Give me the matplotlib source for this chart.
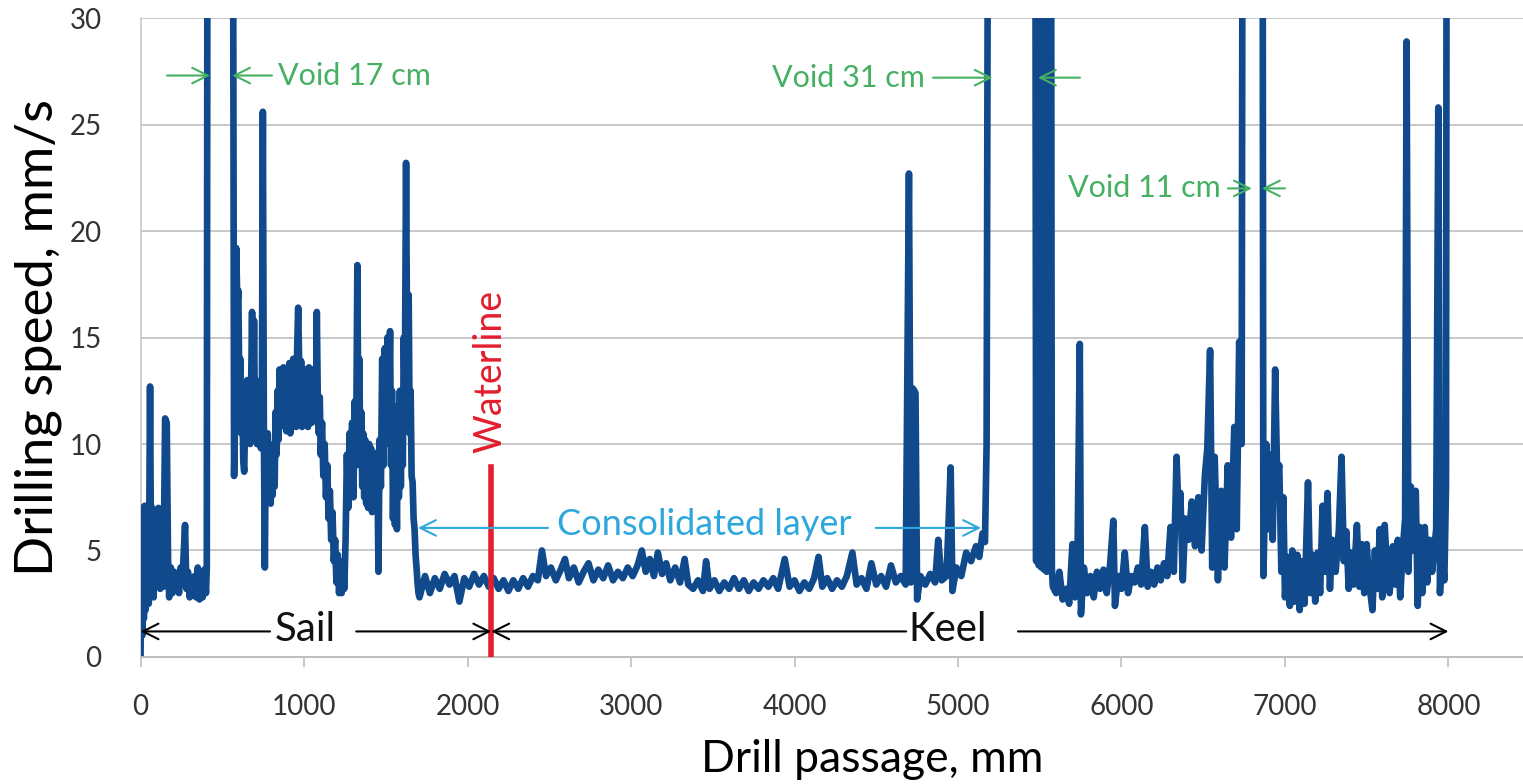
import matplotlib.pyplot as plt
import numpy as np

# drill record (mm, mm/s); values above 30 are voids (off scale)
sail_x = [0, 5, 10, 15, 20, 25, 30, 40, 50, 58, 65, 72, 80, 90, 100, 110, 120, 130, 140, 150,
          160, 168, 175, 185, 195, 205, 215, 225, 235, 245, 255, 265, 272, 280, 290, 300, 310,
          320, 330, 340, 350, 360, 370, 380, 390, 400, 405, 412, 560, 572]
sail_y = [0.2, 7.0, 1.0, 6.8, 1.8, 7.1, 2.2, 6.9, 2.5, 12.7, 3.0, 7.0, 2.8, 6.8, 3.4, 7.0, 3.2,
          5.0, 3.3, 11.2, 11.0, 4.6, 2.8, 4.2, 3.0, 4.0, 3.2, 3.8, 3.0, 4.2, 3.4, 5.0, 6.2, 3.2,
          4.0, 2.8, 3.4, 2.9, 3.8, 2.8, 4.2, 2.7, 3.9, 2.8, 4.1, 3.0, 4.2, 60, 60, 8.5]

upper_x = [580, 585, 592, 598, 604, 610, 616, 622, 628, 634, 640, 646, 652, 658, 664, 670, 676,
           682, 688, 694, 700, 706, 712, 718, 724, 730, 736, 742, 748, 754, 760, 766, 772, 778,
           784, 790, 796, 802, 808, 814, 820, 826, 832, 838, 844, 850, 856, 862, 868, 874, 880,
           886, 892, 898, 904, 910, 916, 922, 928, 934, 940, 946, 952, 958, 964, 970, 976, 982,
           988, 994, 1000, 1006, 1012, 1018, 1024, 1030, 1036, 1042, 1048, 1054, 1060, 1066,
           1072, 1078, 1084, 1090, 1096, 1102, 1110, 1118, 1126, 1134, 1142, 1150, 1158, 1166,
           1174, 1182, 1190, 1198, 1206, 1214, 1222, 1230, 1238, 1246, 1254, 1262, 1270, 1278,
           1286, 1294, 1302, 1310, 1318, 1326, 1332, 1338, 1344, 1350, 1356, 1362, 1368, 1374,
           1380, 1386, 1392, 1398, 1404, 1410, 1416, 1422, 1428, 1434, 1440, 1448, 1455, 1462,
           1470, 1478, 1486, 1494, 1502, 1510, 1518, 1526, 1532, 1538, 1544, 1550, 1556, 1562,
           1568, 1574, 1580, 1586, 1592, 1598, 1604, 1610, 1616, 1624, 1632, 1640, 1646, 1652,
           1658, 1664, 1670, 1676, 1682, 1688, 1694, 1700]
upper_y = [12.0, 19.2, 16.5, 17.2, 12.5, 14.0, 10.5, 12.8, 9.2, 8.7, 11.5, 10.2, 13.0, 10.5,
           11.8, 10.0, 12.5, 16.2, 11.0, 15.8, 10.8, 13.0, 10.0, 12.0, 10.5, 11.2, 9.8, 12.0,
           25.6, 11.0, 4.2, 10.2, 8.0, 10.5, 8.5, 9.8, 7.2, 9.5, 7.6, 10.0, 8.0, 11.5, 9.5, 12.5,
           10.2, 13.5, 10.8, 13.2, 11.0, 13.6, 11.2, 13.4, 10.6, 13.5, 11.0, 13.8, 10.5, 13.5,
           11.8, 14.0, 11.2, 13.2, 10.8, 14.5, 16.4, 13.8, 11.5, 13.9, 10.8, 13.2, 11.5, 13.5,
           11.2, 13.0, 10.8, 13.6, 11.0, 13.2, 11.0, 13.5, 11.2, 12.8, 11.5, 16.2, 12.0, 10.5,
           12.2, 9.5, 11.0, 8.5, 10.0, 7.5, 9.0, 6.5, 7.8, 5.5, 6.8, 4.5, 5.5, 3.5, 4.8, 3.0, 4.0,
           3.0, 4.5, 3.2, 5.5, 9.5, 7.0, 10.5, 8.0, 11.0, 7.5, 12.0, 9.0, 18.4, 10.5, 14.0, 9.0,
           11.5, 8.0, 10.5, 7.5, 10.2, 7.2, 9.8, 7.0, 10.0, 7.5, 9.8, 6.8, 9.5, 7.0, 9.2, 7.2,
           9.6, 4.0, 10.2, 8.0, 14.0, 9.0, 14.5, 10.0, 15.0, 11.0, 15.3, 9.0, 12.5, 6.5, 10.0,
           6.2, 9.5, 6.0, 11.8, 7.5, 12.5, 8.0, 12.0, 9.0, 15.0, 12.0, 23.2, 12.0, 17.0, 10.5,
           12.5, 8.5, 8.2, 6.5, 6.0, 4.8, 4.2, 3.5, 3.0]

layer_x = [1706, 1740, 1770, 1800, 1830, 1860, 1890, 1920, 1950, 1980, 2010, 2040, 2070, 2100,
           2130, 2160, 2190, 2220, 2250, 2280, 2310, 2340, 2370, 2400, 2430, 2455, 2480, 2510,
           2540, 2570, 2596, 2620, 2650, 2680, 2710, 2740, 2770, 2800, 2830, 2860, 2890, 2920,
           2950, 2980, 3010, 3040, 3066, 3090, 3115, 3140, 3164, 3190, 3215, 3240, 3270, 3300,
           3328, 3350, 3380, 3410, 3440, 3459, 3480, 3510, 3540, 3570, 3600, 3630, 3660, 3690,
           3720, 3750, 3780, 3810, 3840, 3870, 3900, 3940, 3970, 4000, 4030, 4060, 4090, 4120,
           4147, 4170, 4200, 4230, 4260, 4290, 4320, 4354, 4380, 4410, 4440, 4470, 4500, 4530,
           4560, 4590, 4620, 4650, 4680, 4700, 4712, 4725, 4740, 4750, 4770, 4800, 4830, 4860,
           4879, 4900, 4930, 4955, 4966, 4990, 5020, 5050, 5080, 5110, 5130, 5150, 5165, 5175]
layer_y = [2.8, 3.8, 3.0, 3.7, 3.2, 3.9, 3.4, 3.8, 2.6, 3.7, 3.3, 3.9, 3.4, 3.8, 3.3, 3.7, 3.2,
           3.6, 3.1, 3.6, 3.2, 3.7, 3.3, 3.8, 3.6, 5.0, 3.8, 4.2, 3.6, 4.1, 4.6, 3.7, 4.2, 3.5,
           4.0, 4.4, 3.6, 4.1, 3.7, 4.3, 3.6, 4.0, 3.7, 4.2, 3.8, 4.3, 5.0, 4.0, 4.6, 3.8, 4.9,
           3.9, 4.4, 3.6, 4.2, 3.5, 4.6, 3.4, 3.2, 3.6, 3.1, 4.5, 3.2, 3.6, 3.1, 3.5, 3.2, 3.7,
           3.2, 3.6, 3.1, 3.5, 3.2, 3.6, 3.3, 3.7, 3.2, 4.6, 3.3, 3.6, 3.1, 3.5, 3.2, 3.7, 4.7,
           3.3, 3.7, 3.2, 3.6, 3.3, 3.8, 4.9, 3.4, 3.7, 3.2, 4.4, 3.4, 3.8, 3.3, 4.3, 3.5, 3.8,
           3.4, 22.7, 3.5, 12.6, 12.4, 2.7, 3.8, 3.4, 3.9, 3.5, 5.5, 3.6, 3.8, 8.9, 3.1, 4.2,
           3.8, 4.9, 4.5, 5.2, 4.7, 5.8, 5.4, 10.0]

keel_x = [5190, 5470, 5478, 5486, 5494, 5502, 5510, 5518, 5526, 5534, 5542, 5550, 5558, 5566,
          5574, 5580, 5600, 5620, 5640, 5660,
          5680, 5700, 5715, 5730, 5745, 5752, 5770, 5790, 5810, 5830, 5850, 5870, 5890, 5910,
          5930, 5950, 5960, 5980, 6000, 6020, 6040, 6060, 6080, 6100, 6120, 6143, 6160, 6180,
          6200, 6220, 6240, 6260, 6280, 6300, 6320, 6337, 6350, 6360, 6375, 6390, 6410, 6430,
          6450, 6470, 6490, 6510, 6525, 6542, 6555, 6570, 6590, 6610, 6630, 6650, 6670, 6690,
          6705, 6720, 6735, 6745, 6860, 6868]
keel_y = [60, 60, 4.5, 60, 4.3, 60, 4.2, 60, 4.1, 60, 4.0, 60, 4.2, 60, 4.2, 3.3, 3.0, 4.0,
          2.7, 3.2, 2.5, 5.3, 2.8, 4.0,
          14.7, 2.0, 4.2, 3.0, 3.8, 2.8, 4.0, 3.2, 4.1, 3.0, 4.3, 6.4, 2.4, 3.8, 3.2, 4.9, 3.0,
          3.8, 3.5, 4.2, 3.4, 6.1, 3.3, 4.0, 3.4, 4.2, 3.6, 4.4, 3.8, 6.1, 4.0, 9.4, 6.5, 7.7,
          3.6, 6.5, 5.5, 7.3, 5.2, 7.5, 5.0, 8.5, 9.8, 14.4, 4.2, 9.4, 3.6, 7.8, 4.2, 9.0, 5.6,
          10.8, 6.0, 14.8, 10.0, 60, 60, 3.8]

end_x = [6885, 6900, 6915, 6925, 6940, 6952, 6965, 6978, 6990, 7000, 7015, 7030, 7045, 7060,
         7075, 7090, 7105, 7120, 7141, 7155, 7170, 7185, 7200, 7215, 7230, 7245, 7260, 7275,
         7290, 7310, 7330, 7346, 7360, 7375, 7390, 7405, 7420, 7440, 7455, 7470, 7485, 7500,
         7515, 7535, 7550, 7565, 7580, 7595, 7610, 7625, 7640, 7660, 7675, 7690, 7705, 7720,
         7735, 7744, 7755, 7770, 7785, 7800, 7812, 7825, 7840, 7855, 7870, 7885, 7900, 7915,
         7925, 7938, 7948, 7960, 7975, 7985, 7992]
end_y = [10.0, 6.0, 9.5, 5.5, 13.5, 8.5, 9.0, 4.0, 7.5, 2.8, 4.7, 2.4, 5.0, 2.6, 4.8, 2.2, 4.5,
         2.5, 8.2, 3.0, 4.8, 2.6, 4.9, 3.0, 7.1, 4.0, 7.7, 3.2, 5.5, 4.0, 6.0, 9.4, 4.5, 5.9,
         3.2, 4.9, 3.4, 6.2, 3.3, 5.3, 3.0, 5.3, 3.5, 2.2, 5.0, 3.2, 6.0, 2.8, 6.2, 4.0, 3.0,
         5.2, 3.4, 5.5, 2.8, 5.0, 6.5, 28.9, 4.0, 8.0, 5.0, 7.8, 2.4, 6.1, 3.0, 6.1, 3.5, 5.5,
         4.0, 5.2, 6.0, 25.8, 3.0, 5.0, 3.6, 8.0, 60]

waterline_mm = 2145
x_ticks = [0, 1000, 2000, 3000, 4000, 5000, 6000, 7000, 8000]
y_ticks = [0, 5, 10, 15, 20, 25, 30]

x = np.concatenate([sail_x, upper_x, layer_x, keel_x, end_x])
y = np.concatenate([sail_y, upper_y, layer_y, keel_y, end_y])

plt.rcParams['font.family'] = ['Lato', 'DejaVu Sans']

fig = plt.figure(figsize=(15.23, 7.84), dpi=100)
ax = fig.add_axes([0.0923, 0.162, 0.9077, 0.815])

ax.plot(x, y, color='#104a8c', lw=4.8, solid_joinstyle='round', zorder=3)

ax.set_xlim(0, 8456)
ax.set_ylim(0, 30)
ax.set_xticks(x_ticks)
ax.set_yticks(y_ticks)
ax.grid(axis='y', color='#bfbfbf', lw=1.2)
ax.set_axisbelow(True)
for s in ['top', 'right']:
    ax.spines[s].set_visible(False)
ax.spines['left'].set_color('#c8c8c8')
ax.spines['bottom'].set_color('#bfbfbf')
ax.spines['left'].set_linewidth(1.2)
ax.spines['bottom'].set_linewidth(1.5)
ax.tick_params(axis='y', length=0, pad=28, labelsize=20, labelcolor='#333333')
ax.tick_params(axis='x', length=7, width=1.2, color='#bfbfbf', pad=20, labelsize=20,
               labelcolor='#333333')

fig.text(872 / 1523, 1 - 760 / 784, 'Drill passage, mm', ha='center', va='center', fontsize=32)
fig.text(38 / 1523, 1 - 338 / 784, 'Drilling speed, mm/s', ha='center', va='center',
         rotation=90, fontsize=38)

# waterline
ax.plot([waterline_mm, waterline_mm], [0, 8.9], color='#e31e2d', lw=4, zorder=4)
ax.text(2137, 9.6, 'Waterline', color='#e31e2d', rotation=90, ha='center', va='bottom',
        fontsize=27)


def arrow(x0, y0, x1, y1, color, lw=1.5):
    ax.annotate('', xy=(x1, y1), xytext=(x0, y0),
                arrowprops=dict(arrowstyle='->', color=color, lw=lw, shrinkA=0, shrinkB=0,
                                mutation_scale=28), zorder=5)


# sail / keel
arrow(792, 1.2, 0, 1.2, 'black')
arrow(1319, 1.2, waterline_mm, 1.2, 'black')
ax.text(1009, 1.3, 'Sail', ha='center', va='center', fontsize=29, color='#111111')
arrow(4683, 1.2, waterline_mm, 1.2, 'black')
arrow(5367, 1.2, 8000, 1.2, 'black')
ax.text(4934, 1.3, 'Keel', ha='center', va='center', fontsize=29, color='#111111')

# consolidated layer
blue = '#2ea7dd'
arrow(2492, 6.06, 1697, 6.06, blue)
arrow(4497, 6.06, 5141, 6.06, blue)
ax.text(3448, 6.2, 'Consolidated layer', ha='center', va='center', fontsize=26, color=blue)

# voids
green = '#45b062'
arrow(162, 27.3, 425, 27.3, green)
arrow(804, 27.3, 560, 27.3, green)
ax.text(842, 27.3, 'Void 17 cm', ha='left', va='center', fontsize=22, color=green)
ax.text(4798, 27.2, 'Void 31 cm', ha='right', va='center', fontsize=22, color=green)
arrow(4847, 27.2, 5212, 27.2, green)
arrow(5746, 27.2, 5489, 27.2, green)
ax.text(6608, 22.0, 'Void 11 cm', ha='right', va='center', fontsize=22, color=green)
arrow(6651, 22.0, 6798, 22.0, green)
arrow(7000, 22.0, 6859, 22.0, green)

fig.savefig('out.png', dpi=100)
